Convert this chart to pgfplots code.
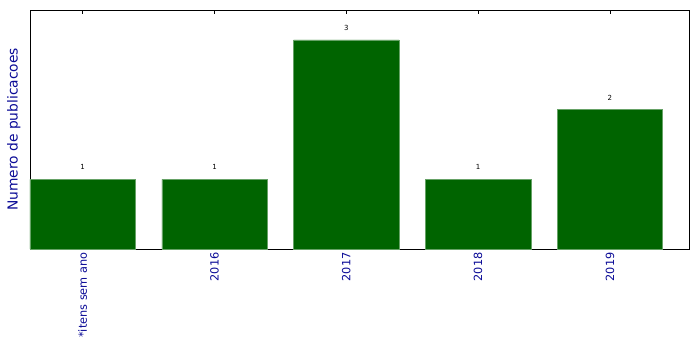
\documentclass[border=0pt]{standalone}
\usepackage{pgfplots}
\pgfplotsset{compat=1.18}
\usepackage{fontspec}
\setmainfont{DejaVu Sans}
\definecolor{bargreen}{RGB}{0,100,0}
\definecolor{lblblue}{RGB}{10,10,150}
\begin{document}
\begin{tikzpicture}[x=1pt,y=1pt]
\useasboundingbox (-30,-100) rectangle (669,249);
\begin{axis}[
  at={(0,0)}, anchor=south west,
  scale only axis, width=659pt, height=239pt,
  xmin=-0.4, xmax=4.6, ymin=0, ymax=3.43,
  xtick={0,1,2,3,4},
  xticklabels={*itens sem ano,2016,2017,2018,2019},
  xticklabel style={rotate=90, anchor=east, font=\fontsize{11.3}{13}\selectfont, text=lblblue},
  ytick=\empty,
  tick align=inside,
  xtick pos=both,
  major tick length=4pt,
  tick style={black, line width=0.6pt},
  axis line style={line width=0.9pt},
  ylabel={Numero de publicacoes},
  ylabel style={font=\fontsize{13.8}{15}\selectfont, text=lblblue, at={(axis description cs:0,0.5)}, anchor=south, yshift=6pt},
  /pgf/number format/assume math mode=true,
]
\addplot[ybar, bar width=0.8, bar shift=0pt, fill=bargreen, draw=bargreen!60!white, line width=0.4pt,
  nodes near coords, nodes near coords style={font=\fontsize{7}{8}\selectfont, text=black, yshift=6pt}]
  coordinates {(0,1) (1,1) (2,3) (3,1) (4,2)};
\end{axis}
\end{tikzpicture}
\end{document}
